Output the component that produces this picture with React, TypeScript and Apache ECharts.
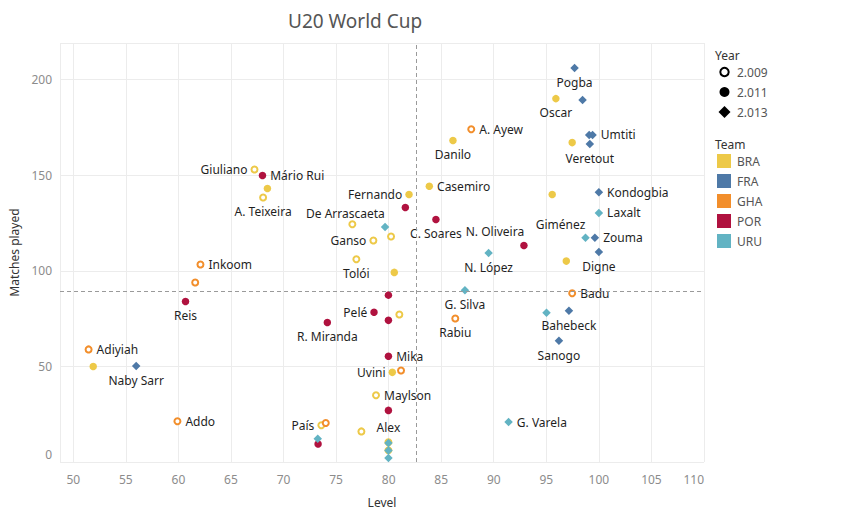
import React, { useEffect, useRef } from "react";
import * as echarts from "echarts";

const TITLE = "U20 World Cup";
const X_NAME = "Level";
const Y_NAME = "Matches played";

const TEAMS = ["BRA", "FRA", "GHA", "POR", "URU"];
const TEAM_COLORS = ["#EDC948", "#4E79A7", "#F28E2B", "#B0123F", "#62B3C3"];
const YEARS = ["2.009", "2.011", "2.013"];

const AVG_LEVEL = 82.65;
const AVG_MATCHES = 89.4;

const PLAYERS = [
  "Pogba", "", "Oscar", "A. Ayew", "Danilo", "", "Umtiti", "Veretout", "", "Casemiro",
  "Fernando", "", "Kondogbia", "Laxalt", "Giménez", "Zouma", "Digne", "", "C. Soares", "N. Oliveira",
  "N. López", "Giuliano", "Mário Rui", "", "A. Teixeira", "", "De Arrascaeta", "", "Ganso", "",
  "Tolói", "Inkoom", "", "", "Reis", "", "Pelé", "", "", "R. Miranda",
  "Adiyiah", "", "Naby Sarr", "Mika", "Uvini", "", "Maylson", "", "Addo", "País",
  "", "", "", "", "Alex", "", "", "", "", "G. Silva",
  "Rabiu", "Badu", "", "Bahebeck", "Sanogo", "G. Varela",
];
const PLAYER_TEAM = [
  "FRA", "FRA", "BRA", "GHA", "BRA", "FRA", "FRA", "FRA", "BRA", "BRA",
  "BRA", "BRA", "FRA", "URU", "URU", "FRA", "FRA", "BRA", "POR", "POR",
  "URU", "BRA", "POR", "BRA", "BRA", "POR", "URU", "BRA", "BRA", "BRA",
  "BRA", "GHA", "BRA", "GHA", "POR", "POR", "POR", "BRA", "POR", "POR",
  "GHA", "BRA", "FRA", "POR", "BRA", "GHA", "BRA", "POR", "GHA", "BRA",
  "GHA", "BRA", "URU", "POR", "BRA", "URU", "BRA", "URU", "URU", "URU",
  "GHA", "GHA", "URU", "FRA", "FRA", "URU",
];
const PLAYER_YEAR = [
  "2.013", "2.013", "2.011", "2.009", "2.011", "2.013", "2.013", "2.013", "2.011", "2.011",
  "2.011", "2.011", "2.013", "2.013", "2.013", "2.013", "2.013", "2.011", "2.011", "2.011",
  "2.013", "2.009", "2.011", "2.011", "2.009", "2.011", "2.013", "2.009", "2.009", "2.009",
  "2.009", "2.009", "2.011", "2.009", "2.011", "2.011", "2.011", "2.009", "2.011", "2.011",
  "2.009", "2.011", "2.013", "2.011", "2.011", "2.009", "2.009", "2.011", "2.009", "2.009",
  "2.009", "2.009", "2.013", "2.011", "2.009", "2.013", "2.009", "2.013", "2.013", "2.013",
  "2.009", "2.009", "2.013", "2.013", "2.013", "2.013",
];
const LEVEL = [
  97.69, 98.45, 95.91, 87.86, 86.12, 99.08, 99.4, 99.14, 97.46, 83.87,
  81.94, 95.56, 100.0, 100.0, 98.73, 99.62, 100.0, 96.9, 84.5, 92.87,
  89.51, 67.24, 68.0, 68.47, 68.06, 81.59, 79.66, 76.55, 78.55, 80.23,
  76.93, 62.1, 80.54, 61.6, 60.68, 79.98, 78.61, 81.02, 79.98, 74.17,
  51.46, 51.9, 55.99, 79.98, 80.35, 81.18, 78.8, 79.98, 59.91, 73.6,
  74.02, 77.41, 73.26, 73.29, 79.98, 79.98, 79.98, 79.98, 79.98, 87.26,
  86.34, 97.46, 95.02, 97.15, 96.2, 91.41,
];
const MATCHES = [
  206.1, 189.4, 190.1, 174.1, 168.2, 171.1, 171.1, 166.4, 167.1, 144.3,
  139.9, 139.9, 141.1, 130.3, 117.3, 117.3, 109.9, 105.1, 126.9, 113.3,
  109.4, 153.0, 149.9, 143.1, 138.4, 133.1, 123.0, 124.4, 115.9, 118.0,
  106.1, 103.3, 99.2, 93.9, 84.0, 87.3, 78.3, 77.2, 74.1, 73.0,
  58.9, 50.0, 50.2, 55.3, 46.9, 47.9, 34.9, 27.0, 21.3, 19.2,
  20.4, 16.0, 12.2, 9.4, 10.3, 10.0, 6.1, 6.0, 2.1, 89.9,
  75.1, 88.3, 78.1, 79.1, 63.4, 20.9,
];
// label side for each player: R right, L left, B below, T above, TL above-left
const LABEL_SIDE = [
  "B", "", "B", "R", "B", "", "R", "B", "", "R",
  "L", "", "R", "R", "TL", "R", "B", "", "B", "TL",
  "B", "L", "R", "", "B", "", "TL", "", "L", "",
  "B", "R", "", "", "B", "", "L", "", "", "B",
  "R", "", "B", "R", "L", "", "R", "", "R", "L",
  "", "", "", "", "T", "", "", "", "", "B",
  "B", "R", "", "B", "B", "R",
];

const FONT = "'Noto Sans', 'DejaVu Sans', sans-serif";

function labelFor(side: string) {
  const base = { show: true, formatter: "{b}", color: "#1f1f1f", fontSize: 12, fontFamily: FONT };
  switch (side) {
    case "R":
      return { ...base, position: "right", distance: 4 };
    case "L":
      return { ...base, position: "left", distance: 3 };
    case "B":
      return { ...base, position: "bottom", distance: 4 };
    case "T":
      return { ...base, position: "top", distance: 5 };
    case "TL":
      return { ...base, position: "left", distance: 0, offset: [4, -13.5] };
    default:
      return { show: false };
  }
}

function pointStyle(year: string, color: string) {
  if (year === "2.009") {
    return { symbol: "circle", symbolSize: 6, itemStyle: { color: "#fff", borderColor: color, borderWidth: 2, opacity: 1 } };
  }
  if (year === "2.011") {
    return { symbol: "circle", symbolSize: 7.5, itemStyle: { color, borderWidth: 0, opacity: 1 } };
  }
  return { symbol: "diamond", symbolSize: 8.5, itemStyle: { color, borderWidth: 0, opacity: 1 } };
}

function buildLegend() {
  const els: any[] = [];
  const lx = 715;
  els.push({
    type: "text",
    x: lx,
    y: 55,
    style: { text: "Year", fill: "#333", fontSize: 12, fontFamily: FONT, verticalAlign: "middle" },
  });
  YEARS.forEach((y, i) => {
    const cy = 72 + i * 20;
    if (i === 0) {
      els.push({ type: "circle", shape: { cx: 724.5, cy, r: 4.2 }, style: { fill: "#fff", stroke: "#000", lineWidth: 2 } });
    } else if (i === 1) {
      els.push({ type: "circle", shape: { cx: 724.5, cy, r: 5 }, style: { fill: "#000" } });
    } else {
      els.push({
        type: "polygon",
        shape: { points: [[724.5, cy - 6], [730.5, cy], [724.5, cy + 6], [718.5, cy]] },
        style: { fill: "#000" },
      });
    }
    els.push({
      type: "text",
      x: 737,
      y: cy,
      style: { text: y, fill: "#555", fontSize: 12, fontFamily: FONT, verticalAlign: "middle" },
    });
  });
  els.push({
    type: "text",
    x: lx,
    y: 144,
    style: { text: "Team", fill: "#333", fontSize: 12, fontFamily: FONT, verticalAlign: "middle" },
  });
  TEAMS.forEach((t, i) => {
    const cy = 161 + i * 20;
    els.push({ type: "rect", shape: { x: 717, y: cy - 7, width: 14, height: 14 }, style: { fill: TEAM_COLORS[i] } });
    els.push({
      type: "text",
      x: 737,
      y: cy,
      style: { text: t, fill: "#555", fontSize: 12, fontFamily: FONT, verticalAlign: "middle" },
    });
  });
  return els;
}

export default function App() {
  const ref = useRef<HTMLDivElement>(null);
  useEffect(() => {
    if (!ref.current) return;
    const chart = echarts.init(ref.current, null, { renderer: "svg" });

    const series: any[] = TEAMS.map((team, ti) => {
      const color = TEAM_COLORS[ti];
      const data: any[] = [];
      PLAYERS.forEach((name, i) => {
        if (PLAYER_TEAM[i] !== team) return;
        data.push({
          name,
          value: [LEVEL[i], MATCHES[i]],
          ...pointStyle(PLAYER_YEAR[i], color),
          label: labelFor(LABEL_SIDE[i]),
        });
      });
      return { type: "scatter", name: team, data, z: 3, itemStyle: { opacity: 1 } };
    });

    series.push({
      type: "scatter",
      name: "avg",
      data: [],
      silent: true,
      markLine: {
        silent: true,
        symbol: "none",
        label: { show: false },
        lineStyle: { color: "#9a9a9a", type: [4, 3], width: 1 },
        data: [{ xAxis: AVG_LEVEL }, { yAxis: AVG_MATCHES }],
      },
      z: 1,
    });

    chart.setOption({
      animation: false,
      backgroundColor: "#fff",
      title: {
        text: TITLE,
        left: 283,
        top: 6,
        textStyle: { color: "#555", fontSize: 19, fontWeight: "normal", fontFamily: FONT },
      },
      grid: { left: 60, right: 150, top: 43, bottom: 57 },
      xAxis: {
        type: "value",
        min: 48.74,
        max: 110,
        splitNumber: 12,
        name: X_NAME,
        nameLocation: "middle",
        nameGap: 34,
        nameTextStyle: { color: "#333", fontSize: 12, fontFamily: FONT },
        axisLine: { show: false },
        axisTick: { show: false },
        axisLabel: {
          color: "#8c8c8c",
          fontSize: 12,
          fontFamily: FONT,
          margin: 11,
          showMinLabel: false,
          alignMaxLabel: "right",
          formatter: (v: number) => (Math.abs(v % 5) < 1e-6 ? String(v) : ""),
        },
        splitLine: { show: true, lineStyle: { color: "#ececec", width: 1 } },
      },
      yAxis: {
        type: "value",
        min: 0,
        max: 219.2,
        interval: 50,
        name: Y_NAME,
        nameLocation: "middle",
        nameGap: 37,
        nameTextStyle: { color: "#333", fontSize: 12, fontFamily: FONT },
        axisLine: { show: false },
        axisTick: { show: false },
        axisLabel: {
          color: "#8c8c8c",
          fontSize: 12,
          fontFamily: FONT,
          margin: 8,
          showMaxLabel: false,
          formatter: (v: number) => {
            if (v === 0) return "{z|0}";
            return Math.abs(v % 50) < 1e-6 ? String(v) : "";
          },
          rich: {
            z: { color: "#8c8c8c", fontSize: 12, fontFamily: FONT, padding: [0, 0, 16, 0] },
          },
        },
        splitLine: { show: true, lineStyle: { color: "#ececec", width: 1 } },
      },
      graphic: buildLegend(),
      series,
    });
    return () => chart.dispose();
  }, []);
  return (
    <div
      ref={ref}
      style={{ position: "fixed", left: 0, top: 0, width: 854, height: 519, background: "#fff" }}
    />
  );
}
